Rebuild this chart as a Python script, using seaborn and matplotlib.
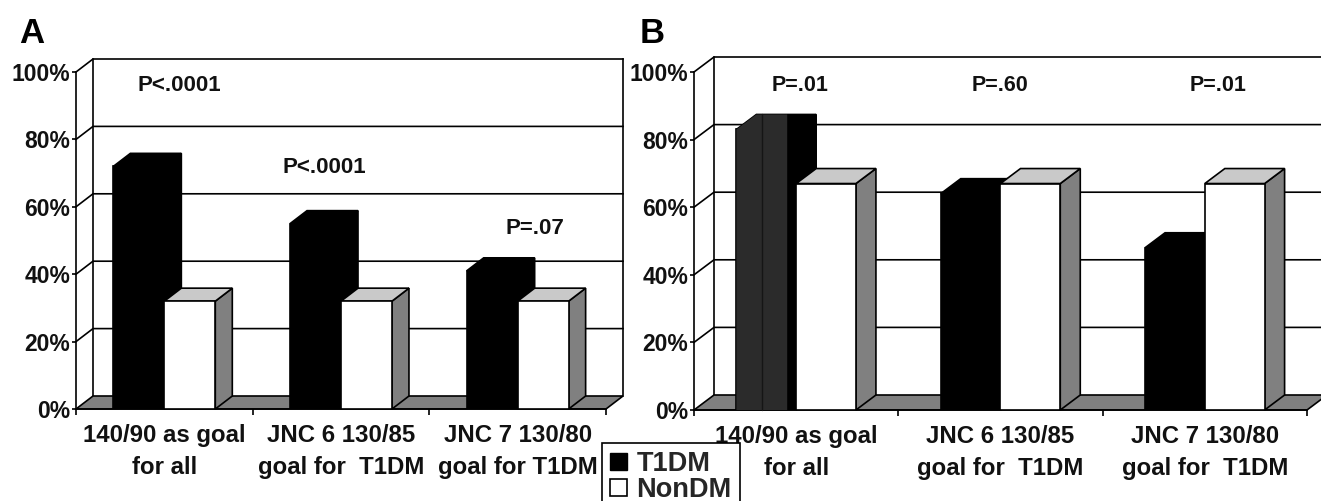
import matplotlib
matplotlib.use("Agg")
import matplotlib.pyplot as plt
from matplotlib.patches import Patch, Polygon
import pandas as pd
import seaborn as sns

# data (percent)
labels_a = ["140/90 as goal\nfor all", "JNC 6 130/85\ngoal for  T1DM", "JNC 7 130/80\ngoal for T1DM"]
labels_b = ["140/90 as goal\nfor all", "JNC 6 130/85\ngoal for  T1DM", "JNC 7 130/80\ngoal for  T1DM"]
t1dm_a = [72, 55, 41]
nondm_a = [32, 32, 32]
t1dm_b = [83, 64, 48]
nondm_b = [67, 67, 67]
yticks = [0, 20, 40, 60, 80, 100]
notes_a = [("P<.0001", 0.083, 95.9), ("P<.0001", 0.903, 71.6), ("P=.07", 2.10, 53.5)]
notes_b = [("P=.01", 0.019, 95.9), ("P=.60", 1.0, 95.9), ("P=.01", 2.065, 95.9)]

W, H = 1321, 501
GREY = "#808080"
LIGHT = "#c9c9c9"
LW = 1.2

sns.set_theme(style="white")
plt.rcParams["font.family"] = ["Liberation Sans", "DejaVu Sans"]
plt.rcParams["font.weight"] = "bold"

fig = plt.figure(figsize=(W / 100, H / 100), dpi=100, facecolor="white")


def panel(box, labels, t1dm, nondm, notes, depth_px, bar_width, note_size):
    left, right, base, top = box
    ax = fig.add_axes([left / W, (H - base) / H, (right - left) / W, (base - top) / H])
    df = pd.DataFrame({
        "goal": labels * 2,
        "pct": t1dm + nondm,
        "group": ["T1DM"] * len(labels) + ["NonDM"] * len(labels),
    })
    sns.barplot(data=df, x="goal", y="pct", hue="group", ax=ax, width=bar_width, gap=0,
                palette={"T1DM": "black", "NonDM": "white"}, legend=False,
                edgecolor="black", linewidth=LW, saturation=1)
    ax.set_xlim(-0.5, 2.5)
    ax.set_ylim(0, 100)
    ax.set_xlabel("")
    ax.set_ylabel("")

    # depth of the fake 3d box, in data units
    dx = depth_px[0] / ((right - left) / 3)
    dy = depth_px[1] / ((base - top) / 100)
    x0, x1 = -0.5, 2.5

    # back wall and side wall
    line = dict(color="black", lw=LW, clip_on=False, zorder=1.5, solid_capstyle="projecting")
    for v in yticks[1:]:
        ax.plot([x0, x0 + dx, x1 + dx], [v, v + dy, v + dy], **line)
    ax.plot([x0 + dx, x0 + dx], [dy, 100 + dy], **line)
    ax.plot([x1 + dx, x1 + dx], [dy, 100 + dy], **line)

    # floor
    ax.add_patch(Polygon([(x0, 0), (x1, 0), (x1 + dx, dy), (x0 + dx, dy)], closed=True,
                         facecolor=GREY, edgecolor="black", lw=LW, clip_on=False, zorder=1.6))

    # side and top faces come from the bars seaborn drew
    for k, cont in enumerate(ax.containers):
        side_col = "black" if k == 0 else GREY
        top_col = "black" if k == 0 else LIGHT
        z = 3 + k
        for bar in cont:
            bx, bw, bh = bar.get_x(), bar.get_width(), bar.get_height()
            bar.set_zorder(z + 0.2)
            ax.add_patch(Polygon([(bx + bw, 0), (bx + bw + dx, dy), (bx + bw + dx, bh + dy), (bx + bw, bh)],
                                 closed=True, facecolor=side_col, edgecolor="black", lw=LW,
                                 clip_on=False, zorder=z))
            ax.add_patch(Polygon([(bx, bh), (bx + dx, bh + dy), (bx + bw + dx, bh + dy), (bx + bw, bh)],
                                 closed=True, facecolor=top_col, edgecolor="black", lw=LW,
                                 clip_on=False, zorder=z + 0.1))

    for txt, x, y in notes:
        ax.text(x, y, txt, ha="center", va="center", fontsize=note_size, color="#111111", zorder=6)

    ax.set_yticks(yticks)
    ax.set_yticklabels([f"{v}%" for v in yticks], fontsize=16.5, color="#111111")
    ax.set_xticks([-0.5, 0.5, 1.5, 2.5])
    ax.set_xticklabels([])
    ax.set_xticks([0, 1, 2], minor=True)
    ax.set_xticklabels(labels, minor=True, fontsize=17.3, color="#111111", linespacing=1.46)
    ax.tick_params(axis="y", length=3, width=LW, pad=1, left=True, color="black")
    ax.tick_params(axis="x", which="major", length=4, width=LW, bottom=True, color="black")
    ax.tick_params(axis="x", which="minor", length=0, pad=11)
    for s in ["top", "right"]:
        ax.spines[s].set_visible(False)
    for s in ["left", "bottom"]:
        ax.spines[s].set_color("black")
        ax.spines[s].set_linewidth(LW)
        ax.spines[s].set_zorder(2)
    ax.patch.set_alpha(0)
    return ax, dx, dy


ax_a, _, _ = panel((76, 606, 409, 72), labels_a, t1dm_a, nondm_a, notes_a, (17, 13), 0.577, 16)
ax_b, dx_b, dy_b = panel((694, 1307, 410, 72), labels_b, t1dm_b, nondm_b, notes_b, (20, 15), 0.585, 15.5)

# first T1DM bar of panel B prints as dark grey stripes, not solid black
bar = ax_b.containers[0][0]
bx, bw, bh = bar.get_x(), bar.get_width(), bar.get_height()
ax_b.add_patch(Polygon([(bx, 0), (bx, bh), (bx + dx_b, bh + dy_b), (bx + 0.85 * bw, bh + dy_b), (bx + 0.85 * bw, 0)],
                       closed=True, facecolor="#2b2b2b", edgecolor="none", clip_on=False, zorder=3.5))
ax_b.plot([bx + 0.42 * bw] * 2, [0, bh + dy_b], color="#151515", lw=1, zorder=3.6, clip_on=False)

fig.text(19 / W, 1 - 43 / H, "A", fontsize=25, color="black", ha="left", va="baseline")
fig.text(640 / W, 1 - 43 / H, "B", fontsize=25, color="black", ha="left", va="baseline")

handles = [Patch(facecolor="black", edgecolor="black", label="T1DM"),
           Patch(facecolor="white", edgecolor="black", lw=1.2, label="NonDM")]
leg = fig.legend(handles=handles, loc="upper left", bbox_to_anchor=(602 / W, 1 - 443 / H),
                 bbox_transform=fig.transFigure, borderaxespad=0, fontsize=19.5, frameon=True,
                 fancybox=False, framealpha=1, edgecolor="black", handlelength=0.62, handleheight=0.62,
                 handletextpad=0.35, labelspacing=0.0, borderpad=0.3)
leg.get_frame().set_linewidth(LW)
leg.set_zorder(10)

fig.savefig("out.png", dpi=100, facecolor="white")
